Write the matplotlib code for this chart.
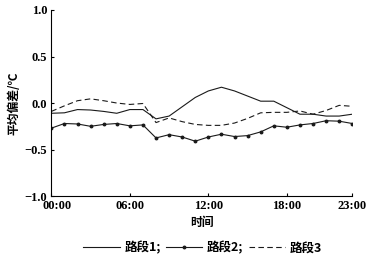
import matplotlib
matplotlib.use("Agg")
import matplotlib.pyplot as plt
import matplotlib.transforms as mtransforms

hours = list(range(24))
seg1 = [-0.11, -0.105, -0.07, -0.075, -0.09, -0.11, -0.07, -0.07, -0.17, -0.14, -0.04, 0.06,
        0.13, 0.17, 0.13, 0.075, 0.02, 0.02, -0.05, -0.12, -0.12, -0.14, -0.14, -0.12]
seg2 = [-0.27, -0.22, -0.225, -0.25, -0.23, -0.22, -0.245, -0.235, -0.375, -0.34, -0.365, -0.41,
        -0.365, -0.335, -0.36, -0.35, -0.31, -0.245, -0.26, -0.235, -0.22, -0.19, -0.195, -0.22]
seg3 = [-0.09, -0.03, 0.025, 0.045, 0.025, 0.0, -0.015, -0.005, -0.21, -0.16, -0.2, -0.23,
        -0.24, -0.24, -0.215, -0.165, -0.105, -0.1, -0.1, -0.085, -0.12, -0.08, -0.025, -0.035]
labels = ["路段1;", "路段2;", "路段3"]
xticks = [0, 6, 12, 18, 23]
xticklabels = ["00:00", "06:00", "12:00", "18:00", "23:00"]
yticks = [-1.0, -0.5, 0.0, 0.5, 1.0]
yticklabels = ["\u22121.0", "\u22120.5", "0.0", "0.5", "1.0"]

plt.rcParams['font.family'] = ['Liberation Serif', 'Noto Sans CJK SC']
fig = plt.figure(figsize=(3.72, 2.56), dpi=100)
ax = fig.add_axes([0.138, 0.234, 0.809, 0.727])

ax.plot(hours, seg1, color='#1a1a1a', lw=0.8, label=labels[0])
ax.plot(hours, seg2, color='#1a1a1a', lw=0.8, marker='o', ms=1.8, label=labels[1])
ax.plot(hours, seg3, color='#1a1a1a', lw=0.8, ls=(0, (5, 3)), label=labels[2])

ax.set_xlim(0, 23)
ax.set_ylim(-1.0, 1.0)
ax.set_xticks(xticks)
ax.set_xticklabels(xticklabels, fontsize=9, fontweight='bold')
ax.set_yticks(yticks)
ax.set_yticklabels(yticklabels, fontsize=9, fontweight='bold')
ax.tick_params(direction='in', length=2.5, width=0.8, pad=3)
first = ax.get_xticklabels()[0]
first.set_transform(first.get_transform() + mtransforms.ScaledTranslation(6 / 100, 0, fig.dpi_scale_trans))
for s in ['top', 'right']:
    ax.spines[s].set_visible(False)
for s in ['left', 'bottom']:
    ax.spines[s].set_linewidth(0.8)

ax.set_xlabel("时间", fontsize=8.5, fontweight='bold', family=['Noto Sans CJK SC'], labelpad=3)
ax.set_ylabel("平均偏差/℃", fontsize=8.5, fontweight='bold', family=['Noto Sans CJK SC', 'DejaVu Sans'], labelpad=3)

leg = fig.legend(loc='center', bbox_to_anchor=(0.545, 0.033), ncol=3, frameon=False,
                 handlelength=2.9, handletextpad=0.4, columnspacing=0.4,
                 prop={'family': ['Noto Sans CJK SC'], 'weight': 'bold', 'size': 9})

fig.savefig("out.png", dpi=100, facecolor='white')
